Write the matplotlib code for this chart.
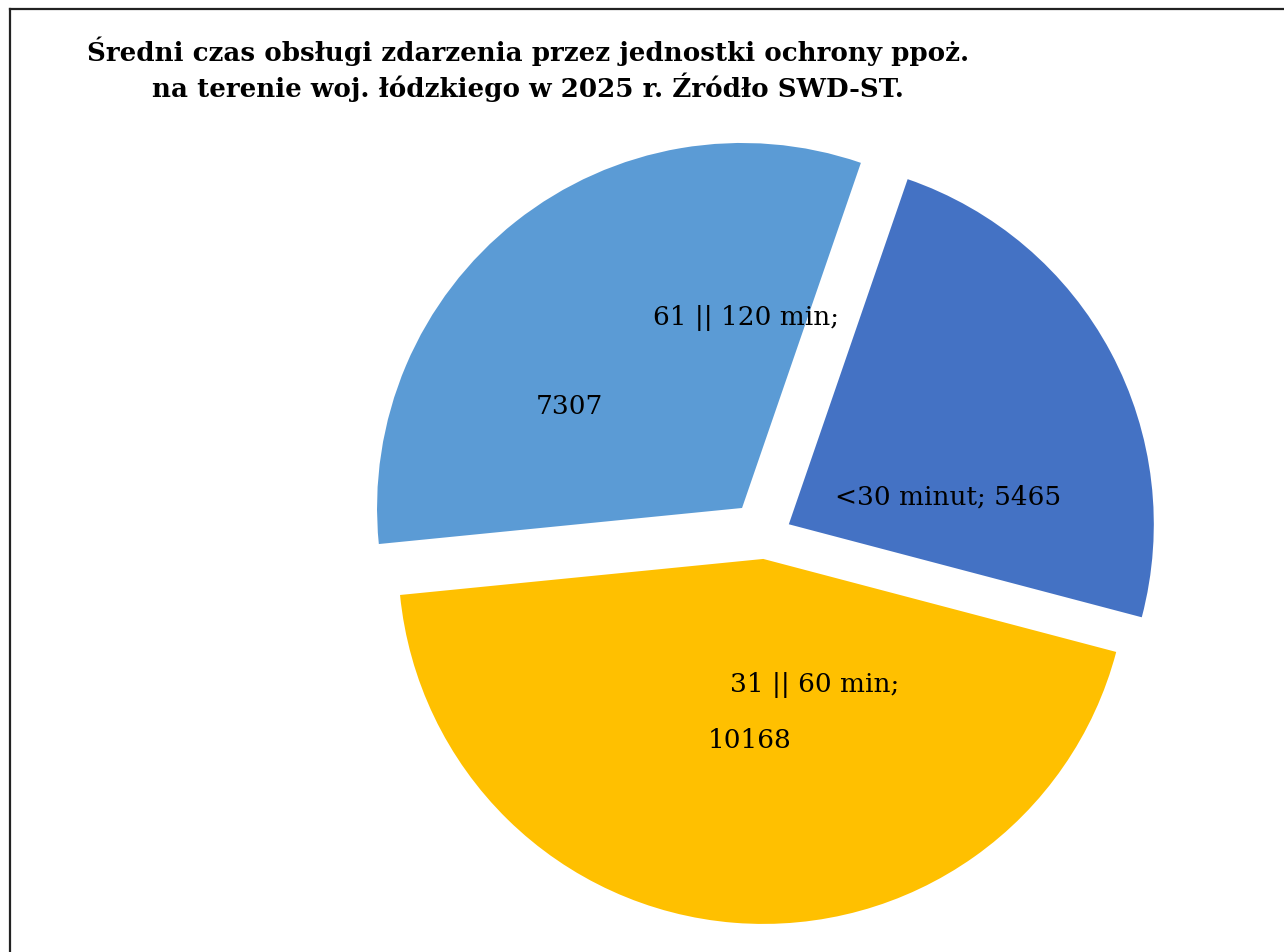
import matplotlib.pyplot as plt
from matplotlib.lines import Line2D

# Data
categories = ["<30 minut", "31 || 60 min", "61 || 120 min"]
values = [5465, 10168, 7307]
colors = ["#4472C4", "#FFC000", "#5B9BD5"]

title = ("Średni czas obsługi zdarzenia przez jednostki ochrony ppoż.\n"
         "na terenie woj. łódzkiego w 2025 r. Źródło SWD-ST.")

W, H = 1284, 953
fig = plt.figure(figsize=(W / 100, H / 100), dpi=100)
ax = fig.add_axes([0, 0, 1, 1])

# pie centre and radius in pixels (y measured from bottom);
# explode in matplotlib is an absolute offset, so give it in pixels too
cx, cy, r = 765, H - 538, 365
ax.pie(values, colors=colors, startangle=71, counterclock=False,
       explode=[27, 22, 37], radius=r, center=(cx, cy),
       wedgeprops=dict(linewidth=0))
ax.set_xlim(0, W)
ax.set_ylim(0, H)
ax.set_aspect("equal")
ax.axis("off")

font = "DejaVu Serif"
lab = dict(fontsize=19, family=font, ha="center", va="center", color="black")

# data labels (pixel positions, y from top)
ax.text(746, H - 318, f"{categories[2]};", **lab)
ax.text(569, H - 406, f"{values[2]}", **lab)
ax.text(948, H - 497, f"{categories[0]}; {values[0]}", **lab)
ax.text(815, H - 685, f"{categories[1]};", **lab)
ax.text(750, H - 741, f"{values[1]}", **lab)

ax.text(528, H - 69, title, fontsize=18.8, family=font, fontweight="bold",
        ha="center", va="center", linespacing=1.25)

# chart border (cropped at right and bottom)
fig.add_artist(Line2D([10 / W, 10 / W], [0, 1 - 10 / H], color="#222222",
                      linewidth=1.6, transform=fig.transFigure))
fig.add_artist(Line2D([10 / W, 1], [1 - 10 / H, 1 - 10 / H], color="#222222",
                      linewidth=1.6, transform=fig.transFigure))

fig.savefig("out.png", dpi=100)
